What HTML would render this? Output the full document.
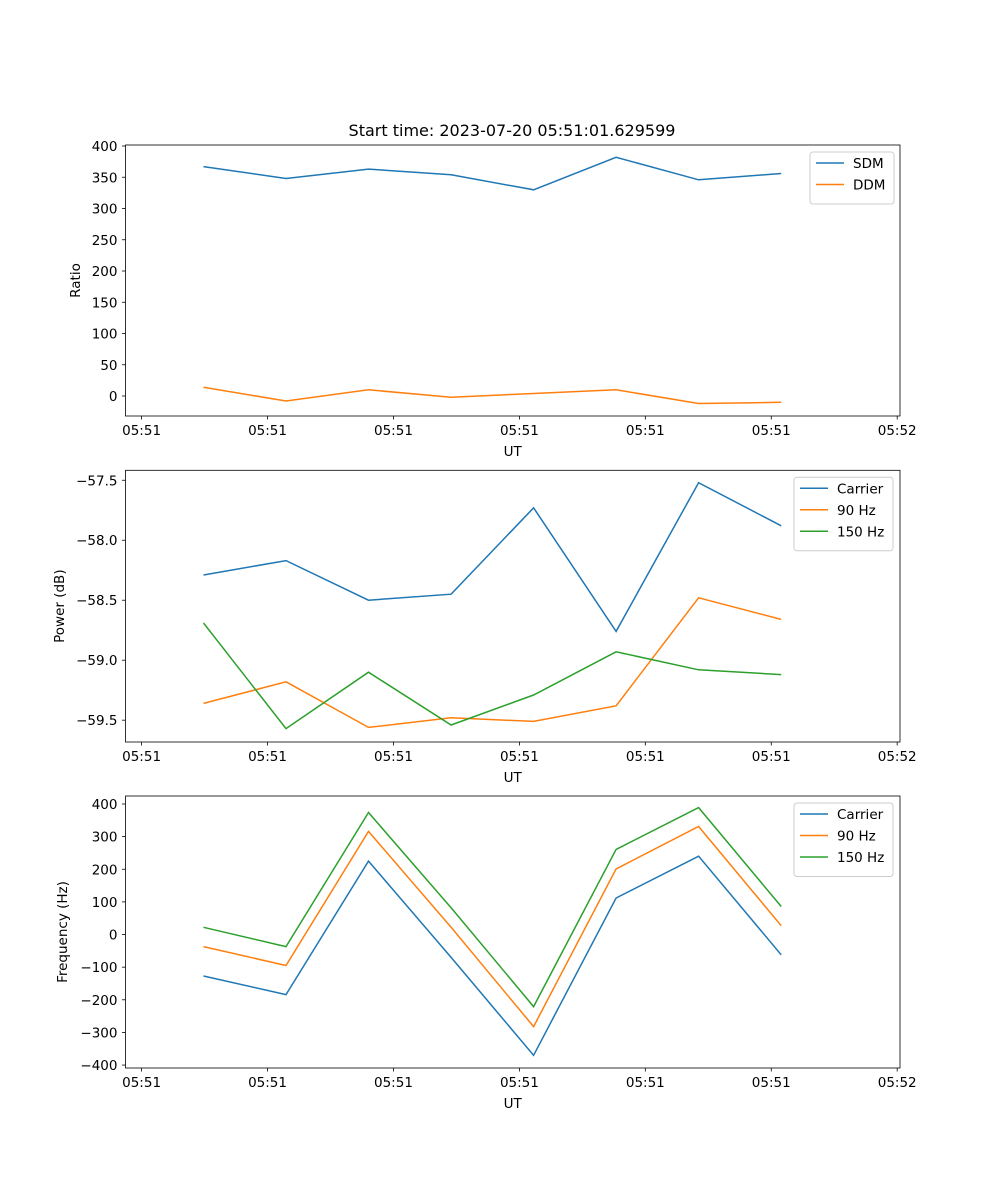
<!DOCTYPE html>
<html><head><meta charset="utf-8"><style>
html,body{margin:0;padding:0;background:#fff;}
svg{display:block;font-family:"DejaVu Sans","Liberation Sans",sans-serif;}
</style></head><body>
<svg id="fig" width="1000" height="1200" viewBox="0 0 1000 1200" xmlns="http://www.w3.org/2000/svg">
<rect width="1000" height="1200" fill="#fff"/>
<text x="512" y="136" font-size="16" text-anchor="middle">Start time: 2023-07-20 05:51:01.629599</text>
</svg>
<script>
const xTickPos = [-0.75, 0.776, 2.302, 3.828, 5.354, 6.88, 8.406];
const xTickLabels = ["05:51","05:51","05:51","05:51","05:51","05:51","05:52"];
const sdm = [367,348,363,354,330,382,346,356];
const ddm = [14,-8,10,-2,4,10,-12,-10];
const ratioTicks = [0,50,100,150,200,250,300,350,400];
const pwrCarrier = [-58.29,-58.17,-58.50,-58.45,-57.73,-58.76,-57.52,-57.88];
const pwr90 = [-59.36,-59.18,-59.56,-59.48,-59.51,-59.38,-58.48,-58.66];
const pwr150 = [-58.69,-59.57,-59.10,-59.54,-59.29,-58.93,-59.08,-59.12];
const pwrTicks = [-59.5,-59.0,-58.5,-58.0,-57.5];
const frqCarrier = [-127,-184,225,-70,-370,112,240,-62];
const frq90 = [-37,-95,316,22,-282,201,331,27];
const frq150 = [22,-37,374,82,-221,261,389,86];
const frqTicks = [-400,-300,-200,-100,0,100,200,300,400];

const NS="http://www.w3.org/2000/svg";
const svg=document.getElementById('fig');
const C=['#1f77b4','#ff7f0e','#2ca02c'];
function mk(tag,attrs,parent){const e=document.createElementNS(NS,tag);for(const k in attrs)e.setAttribute(k,attrs[k]);(parent||svg).appendChild(e);return e;}
const L=125.5,R=900,XMIN=-0.945,XMAX=8.44;
function xs(v){return L+(v-XMIN)/(XMAX-XMIN)*(R-L);}

function panel(id,top,bot,ymin,ymax,yticks,fmt,ylabel,series,names,legend){
  const g=mk('g',{});
  
  
  const ys=v=>bot-(v-ymin)/(ymax-ymin)*(bot-top);
  series.forEach((s,si)=>{
    const p=mk('polyline',{points:s.map((v,i)=>xs(i).toFixed(1)+','+ys(v).toFixed(1)).join(' '),fill:'none',stroke:C[si],'stroke-width':1.5},g);
    
    
  });
  const fr=mk('rect',{x:L,y:top,width:R-L,height:bot-top,fill:'none',stroke:'#000','stroke-width':0.8},g);
  
  
  xTickPos.forEach((v,i)=>{
    const x=xs(v);
    mk('line',{x1:x,x2:x,y1:bot,y2:bot+3.5,stroke:'#000','stroke-width':0.8},g);
    const t=mk('text',{x:x,y:bot+19,'font-size':13.5,'text-anchor':'middle'},g);
    t.textContent=xTickLabels[i];
    
    
  });
  yticks.forEach(v=>{
    const y=ys(v);
    mk('line',{x1:L-3.5,x2:L,y1:y,y2:y,stroke:'#000','stroke-width':0.8},g);
    const t=mk('text',{x:L-8,y:y+5,'font-size':13.5,'text-anchor':'end'},g);
    t.textContent=fmt(v);
    
    
  });
  const xl=mk('text',{x:(L+R)/2,y:bot+40,'font-size':13.5,'text-anchor':'middle'},g);
  xl.textContent='UT';
  
  
  const yl=mk('text',{x:0,y:0,'font-size':13.5,'text-anchor':'middle',transform:`translate(${legend.ylx},${(top+bot)/2}) rotate(-90)`},g);
  yl.textContent=ylabel;
  
  
  const lg=mk('g',{},g);
  
  
  mk('rect',{x:legend.x,y:top+7,width:legend.w,height:9+names.length*21.5,rx:3,fill:'#fff',stroke:'#ccc','stroke-width':1},lg);
  names.forEach((n,i)=>{
    const y=top+18+i*21.5;
    const e=mk('g',{},lg);
    
    
    mk('line',{x1:legend.x+6,x2:legend.x+34,y1:y,y2:y,stroke:C[i],'stroke-width':1.5},e);
    const t=mk('text',{x:legend.x+43,y:y+5,'font-size':13.5},e);
    t.textContent=n;
  });
}
const neg=v=>String(v).replace('-','\u2212');
panel('ratio',145,416,-32,401.6,ratioTicks,v=>neg(v),'Ratio',[sdm,ddm],['SDM','DDM'],{x:810,w:84,ylx:80});
panel('power',470.3,742,-59.682,-57.417,pwrTicks,v=>neg(v.toFixed(1)),'Power (dB)',[pwrCarrier,pwr90,pwr150],['Carrier','90 Hz','150 Hz'],{x:794,w:99,ylx:64});
panel('frequency',796,1068,-409,424.5,frqTicks,v=>neg(v),'Frequency (Hz)',[frqCarrier,frq90,frq150],['Carrier','90 Hz','150 Hz'],{x:794,w:99,ylx:67});
</script>
</body></html>
